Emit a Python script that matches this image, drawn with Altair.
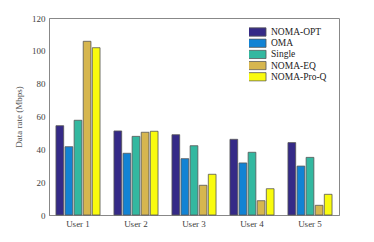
import altair as alt
import pandas as pd

users = ["User 1", "User 2", "User 3", "User 4", "User 5"]
schemes = ["NOMA-OPT", "OMA", "Single", "NOMA-EQ", "NOMA-Pro-Q"]
colors = ["#352a87", "#1283d4", "#33b8a0", "#d6b64f", "#f9fb0e"]
noma_opt = [54.4, 51.2, 48.9, 46.1, 44.1]
oma = [41.6, 37.6, 34.3, 31.7, 29.8]
single = [57.7, 47.9, 42.2, 38.2, 35.1]
noma_eq = [105.8, 50.4, 18.1, 8.7, 5.9]
noma_proq = [101.9, 51.0, 24.8, 16.0, 12.6]

series = [noma_opt, oma, single, noma_eq, noma_proq]
rows = []
for s, vals in zip(schemes, series):
    for u, v in zip(users, vals):
        rows.append({"user": u, "scheme": s, "rate": v})
df = pd.DataFrame(rows)

font = "Liberation Serif"
txt = "#404040"

chart = alt.Chart(df).mark_bar(stroke="#555555", strokeWidth=0.8).encode(
    x=alt.X("user:N", sort=users,
            scale=alt.Scale(paddingInner=0.24, paddingOuter=0.12),
            axis=alt.Axis(title=None, labelAngle=0, labelFont=font, labelFontSize=9,
                          labelColor=txt, ticks=False, labelPadding=4,
                          domainColor="#888888")),
    xOffset=alt.XOffset("scheme:N", sort=schemes,
                        scale=alt.Scale(paddingInner=0.15)),
    y=alt.Y("rate:Q", scale=alt.Scale(domain=[0, 120]),
            axis=alt.Axis(title="Data rate (Mbps)", values=[0, 20, 40, 60, 80, 100, 120],
                          grid=False, ticks=False, labelFont=font, labelFontSize=9,
                          labelColor=txt, titleFont=font, titleFontSize=9,
                          titleFontWeight="normal", titleColor="#555555",
                          labelPadding=4, titlePadding=8, domainColor="#888888")),
    color=alt.Color("scheme:N", sort=schemes,
                    scale=alt.Scale(domain=schemes, range=colors),
                    legend=alt.Legend(title=None, orient="none", legendX=200, legendY=9,
                                      symbolType="M-2.5,-0.9H2.5V0.9H-2.5Z", symbolSize=85,
                                      symbolStrokeColor="#555555", symbolStrokeWidth=0.8,
                                      labelFont=font, labelFontSize=9.5, labelColor="#222222",
                                      clipHeight=10, rowPadding=1.2, labelOffset=11,
                                      symbolOpacity=1)),
).properties(
    width=290, height=197,
    autosize=alt.AutoSizeParams(type="none"),
    padding={"left": 41, "top": 10, "right": 10, "bottom": 20},
).configure_view(stroke="#888888", strokeWidth=1)

chart.save("out.html", embed_options={"renderer": "svg", "actions": False})
